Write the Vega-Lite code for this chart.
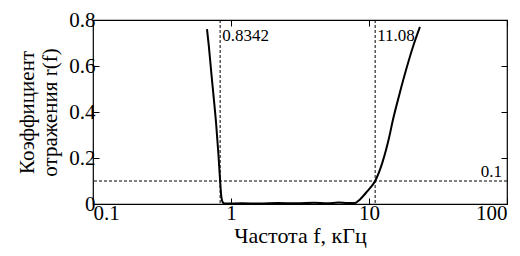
{
  "$schema": "https://vega.github.io/schema/vega-lite/v6.json",
  "width": 414,
  "height": 184,
  "autosize": {"type": "none"},
  "padding": {"left": 93, "top": 20, "right": 13, "bottom": 52},
  "background": "white",
  "config": {
    "font": "Liberation Serif",
    "view": {"stroke": "black", "strokeWidth": 1.2},
    "axis": {"domain": false, "grid": false, "tickColor": "black", "tickSize": -6, "labelColor": "black", "titleColor": "black", "labelFont": "Liberation Serif", "titleFont": "Liberation Serif", "titleFontWeight": "normal"}
  },
  "resolve": {"axis": {"x": "independent", "y": "independent"}},
  "datasets": {
    "curve": [
      {"f": 0.67, "r": 0.76},
      {"f": 0.69, "r": 0.69},
      {"f": 0.72, "r": 0.57},
      {"f": 0.75, "r": 0.46},
      {"f": 0.78, "r": 0.35},
      {"f": 0.81, "r": 0.22},
      {"f": 0.8342, "r": 0.1},
      {"f": 0.85, "r": 0.035},
      {"f": 0.87, "r": 0.008},
      {"f": 0.9, "r": 0.002},
      {"f": 1.2, "r": 0.003},
      {"f": 1.6, "r": 0.002},
      {"f": 2.2, "r": 0.004},
      {"f": 3.0, "r": 0.003},
      {"f": 4.0, "r": 0.005},
      {"f": 5.0, "r": 0.003},
      {"f": 6.0, "r": 0.006},
      {"f": 7.0, "r": 0.004},
      {"f": 7.9, "r": 0.004},
      {"f": 8.6, "r": 0.02},
      {"f": 9.7, "r": 0.055},
      {"f": 11.08, "r": 0.1},
      {"f": 12.5, "r": 0.18},
      {"f": 14.0, "r": 0.29},
      {"f": 14.9, "r": 0.365},
      {"f": 16.5, "r": 0.47},
      {"f": 18.5, "r": 0.58},
      {"f": 21.0, "r": 0.69},
      {"f": 23.4, "r": 0.77}
    ],
    "vlines": [{"f": 0.8342, "label": "0.8342"}, {"f": 11.08, "label": "11.08"}],
    "hline": [{"r": 0.1, "label": "0.1", "f": 100}]
  },
  "layer": [
    {
      "data": {"name": "curve"},
      "mark": {"type": "line", "color": "black", "strokeWidth": 2, "interpolate": "monotone", "clip": true},
      "encoding": {
        "x": {"field": "f", "type": "quantitative", "scale": {"type": "log", "domain": [0.1, 100], "nice": false},
          "axis": {"values": [0.1, 1, 10, 100], "format": "~g", "labelPadding": 4, "labelFontSize": 21, "title": "Частота f, кГц", "titleFontSize": 22, "titlePadding": 2}},
        "y": {"field": "r", "type": "quantitative", "scale": {"domain": [0, 0.8], "nice": false},
          "axis": {"values": [0, 0.2, 0.4, 0.6, 0.8], "format": "~g", "labelPadding": 4, "labelFontSize": 21, "title": ["Коэффициент", "отражения r(f)"], "titleFontSize": 21, "titlePadding": 8, "titleLineHeight": 23}}
      }
    },
    {
      "data": {"name": "vlines"},
      "mark": {"type": "point", "opacity": 0},
      "encoding": {
        "x": {"field": "f", "type": "quantitative", "axis": {"orient": "top", "values": [0.1, 1, 10, 100], "labels": false, "title": null}},
        "y": {"datum": 0.5, "type": "quantitative", "axis": {"orient": "right", "values": [0, 0.2, 0.4, 0.6, 0.8], "labels": false, "title": null}}
      }
    },
    {
      "data": {"name": "vlines"},
      "mark": {"type": "rule", "color": "black", "strokeWidth": 1, "strokeDash": [3, 2]},
      "encoding": {"x": {"field": "f", "type": "quantitative", "axis": null}}
    },
    {
      "data": {"name": "vlines"},
      "mark": {"type": "text", "align": "left", "baseline": "middle", "dx": 2, "fontSize": 17, "color": "black", "font": "Liberation Serif"},
      "encoding": {"x": {"field": "f", "type": "quantitative", "axis": null}, "y": {"datum": 0.73, "type": "quantitative", "axis": null}, "text": {"field": "label"}}
    },
    {
      "data": {"name": "hline"},
      "mark": {"type": "rule", "color": "black", "strokeWidth": 1, "strokeDash": [3, 2]},
      "encoding": {"y": {"field": "r", "type": "quantitative", "axis": null}}
    },
    {
      "data": {"name": "hline"},
      "mark": {"type": "text", "align": "right", "baseline": "bottom", "dx": -5, "dy": 0, "fontSize": 17, "color": "black", "font": "Liberation Serif"},
      "encoding": {"x": {"field": "f", "type": "quantitative", "axis": null}, "y": {"field": "r", "type": "quantitative", "axis": null}, "text": {"field": "label"}}
    }
  ]
}
